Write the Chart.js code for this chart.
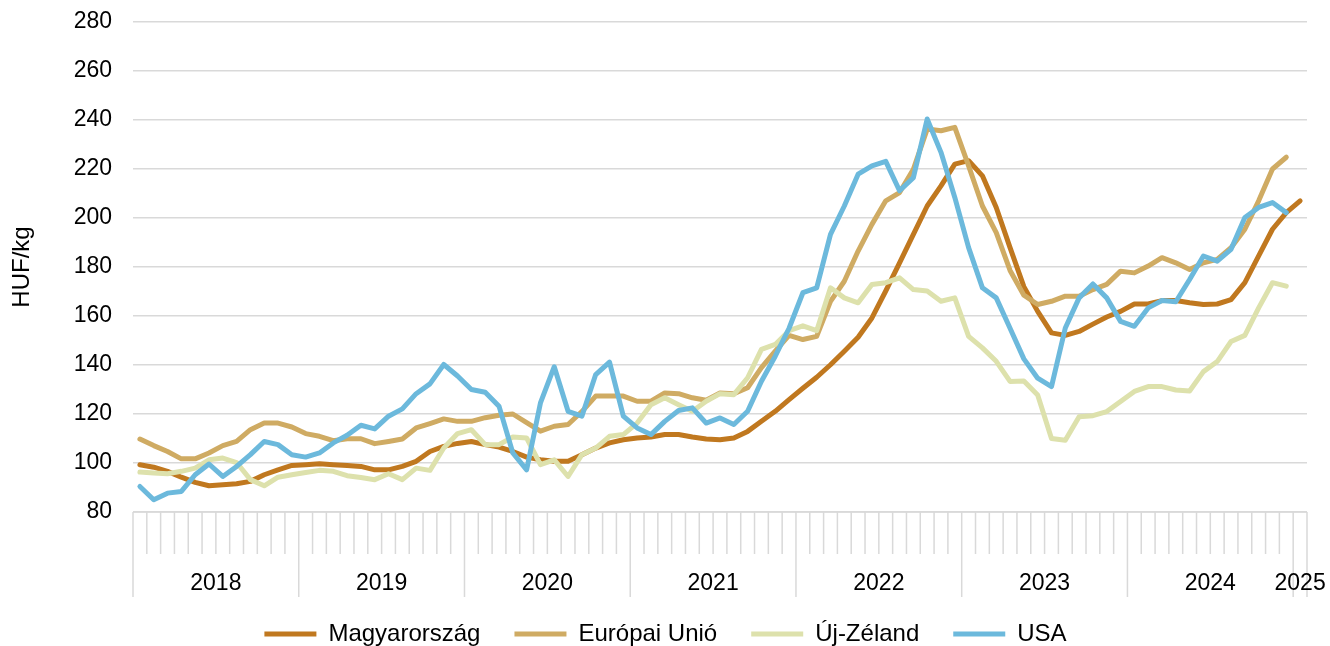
<!DOCTYPE html>
<html>
<head>
<meta charset="utf-8">
<script src="https://cdn.jsdelivr.net/npm/chart.js@4"></script>
<style>
  html, body { margin: 0; padding: 0; background: #fff; }
  #wrap { width: 1330px; height: 646px; }
</style>
</head>
<body>
<div id="wrap"><canvas id="priceChart"></canvas></div>
<script>
// categories: monthly, Jan 2018 .. Jan 2025
const years = ['2018', '2019', '2020', '2021', '2022', '2023', '2024', '2025'];
const months = ['01', '02', '03', '04', '05', '06', '07', '08', '09', '10', '11', '12'];
const yTicks = [80, 100, 120, 140, 160, 180, 200, 220, 240, 260, 280];

const hungary = [
  99.3, 98.3, 96.6, 94.2, 92.1, 90.7, 91.1, 91.5, 92.5, 95.2, 97.2, 99.0,
  99.3, 99.7, 99.3, 99.0, 98.6, 97.2, 97.2, 98.6, 100.7, 104.7, 106.8, 108.0,
  108.8, 107.5, 106.5, 104.7, 102.4, 101.3, 100.7, 100.7, 103.4, 106.1, 108.2, 109.5,
  110.2, 110.6, 111.6, 111.6, 110.6, 109.8, 109.5, 110.2, 112.9, 117.0, 121.1, 125.9,
  130.5, 135.0, 140.1, 145.6, 151.3, 159.2, 170.2, 181.7, 193.3, 204.9, 213.1, 222.0,
  223.4, 217.2, 204.3, 187.9, 172.0, 161.9, 153.1, 152.1, 153.7, 156.7, 159.6, 161.9,
  164.9, 164.9, 166.3, 166.3, 165.4, 164.7, 164.9, 166.7, 173.6, 184.5, 195.4, 202.2,
  207.0
];
const eu = [
  109.8, 107.1, 104.7, 101.7, 101.7, 104.1, 107.1, 108.8, 113.6, 116.3, 116.3, 114.7,
  112.0, 110.9, 109.1, 109.9, 109.9, 107.9, 108.8, 109.8, 114.3, 116.1, 118.0, 117.0,
  117.0, 118.5, 119.5, 120.0, 116.5, 113.0, 115.0, 115.7, 121.0, 127.3, 127.3, 127.3,
  125.2, 125.2, 128.6, 128.3, 126.6, 125.6, 128.6, 128.3, 130.7, 138.9, 145.7, 152.1,
  150.4, 151.7, 166.0, 174.2, 186.5, 197.4, 207.0, 210.4, 219.9, 236.3, 235.6, 237.0,
  221.3, 204.9, 194.0, 178.6, 168.5, 164.7, 166.0, 168.1, 168.1, 170.8, 172.9, 178.3,
  177.6, 180.4, 183.8, 181.7, 179.0, 181.7, 183.1, 187.9, 195.4, 207.0, 220.0, 224.8,
  null
];
const newZealand = [
  96.3, 95.9, 95.6, 96.6, 97.9, 101.3, 102.0, 100.2, 93.2, 90.7, 94.2, 95.2,
  96.1, 97.0, 96.6, 94.8, 94.1, 93.2, 95.6, 93.2, 97.9, 97.0, 106.1, 112.0,
  113.6, 107.5, 107.5, 110.6, 110.2, 99.3, 101.3, 94.5, 103.4, 106.1, 110.9, 111.6,
  116.3, 123.8, 126.6, 123.8, 121.1, 125.2, 128.3, 127.9, 134.8, 146.4, 148.4, 154.0,
  156.0, 154.0, 171.5, 167.4, 165.4, 172.9, 173.6, 175.6, 170.8, 170.2, 166.0, 167.4,
  151.7, 147.0, 141.5, 133.3, 133.5, 127.8, 110.0, 109.3, 118.9, 119.3, 121.0, 125.1,
  129.2, 131.2, 131.2, 129.8, 129.4, 137.3, 141.4, 149.6, 152.1, 163.3, 173.6, 172.2,
  null
];
const usa = [
  90.4, 85.0, 87.7, 88.4, 95.2, 99.6, 94.5, 98.6, 103.4, 108.8, 107.5, 103.4,
  102.4, 104.1, 108.2, 111.3, 115.4, 113.9, 119.1, 122.1, 128.3, 132.3, 140.2, 135.5,
  130.0, 128.9, 123.2, 104.1, 97.2, 124.5, 139.3, 121.1, 119.1, 136.1, 141.2, 119.1,
  114.3, 111.6, 117.0, 121.4, 122.5, 116.3, 118.4, 115.7, 121.1, 133.4, 143.6, 155.0,
  169.5, 171.5, 193.3, 204.9, 217.9, 221.3, 223.1, 211.1, 216.5, 240.4, 226.8, 208.4,
  187.9, 171.5, 167.4, 155.0, 142.5, 134.6, 131.2, 155.1, 167.4, 173.1, 167.4, 157.8,
  155.8, 163.3, 166.3, 165.8, 174.9, 184.5, 182.4, 187.2, 200.2, 204.3, 206.3, 202.2,
  null
];

const labels = [];
years.forEach(y => months.forEach(m => labels.push(y + '-' + m)));
labels.length = hungary.length;

const FONT = 'Arial, "Liberation Sans", sans-serif';
const GRID = '#d9d9d9';

// Excel-like two level category axis: month ticks + year groups
const yearAxis = {
    id: 'yearAxis',
    afterLayout(chart) {
        // legend is centred on the whole canvas in the original
        chart.legend.left += 12;
        chart.legend.right += 12;
    },
    afterDraw(chart) {
        const ctx = chart.ctx;
        const xs = chart.scales.x;
        const top = chart.chartArea.bottom;
        const step = xs.getPixelForValue(1) - xs.getPixelForValue(0);
        const edge = k => xs.getPixelForValue(k) - step / 2;

        ctx.save();
        ctx.strokeStyle = GRID;
        ctx.lineWidth = 1.5;
        ctx.beginPath();
        ctx.moveTo(xs.left, top);
        ctx.lineTo(xs.right, top);
        for (let k = 0; k <= labels.length; k++) {
            const px = edge(k);
            const long = k % 12 === 0 || k === labels.length;
            ctx.moveTo(px, top);
            ctx.lineTo(px, top + (long ? 85 : 42));
        }
        ctx.stroke();

        ctx.fillStyle = '#000';
        ctx.font = '23px ' + FONT;
        ctx.textAlign = 'center';
        ctx.textBaseline = 'middle';
        years.forEach((y, i) => {
            const first = i * 12;
            const last = Math.min(first + 11, labels.length - 1);
            const cx = (xs.getPixelForValue(first) + xs.getPixelForValue(last)) / 2;
            ctx.fillText(y, cx, top + 72);
        });
        ctx.restore();
    }
};

function series(label, data, color, order) {
    return {
        label: label,
        data: data,
        borderColor: color,
        backgroundColor: color,
        borderWidth: 5,
        pointRadius: 0,
        tension: 0,
        borderJoinStyle: 'round',
        borderCapStyle: 'round',
        order: order
    };
}

const ctx = document.getElementById('priceChart').getContext('2d');
new Chart(ctx, {
    type: 'line',
    data: {
        labels: labels,
        datasets: [
            series('Magyarország', hungary, '#c0781f', 4),
            series('Európai Unió', eu, '#cfab63', 3),
            series('Új-Zéland', newZealand, '#dde1ac', 2),
            series('USA', usa, '#6cb9dc', 1)
        ]
    },
    options: {
        responsive: true,
        maintainAspectRatio: false,
        animation: false,
        layout: { padding: { top: 22, right: 23, left: 0, bottom: -10 } },
        plugins: {
            tooltip: { enabled: false },
            legend: {
                position: 'bottom',
                labels: {
                    font: { family: FONT, size: 24 },
                    color: '#000',
                    boxWidth: 52,
                    boxHeight: 5,
                    padding: 34,
                    generateLabels: chart => chart.data.datasets.map((ds, i) => ({
                        text: ds.label,
                        fillStyle: ds.borderColor,
                        strokeStyle: ds.borderColor,
                        lineWidth: 0,
                        fontColor: '#000',
                        datasetIndex: i
                    }))
                }
            }
        },
        scales: {
            x: {
                offset: true,
                grid: { display: false },
                border: { display: false },
                ticks: { display: false },
                afterFit: scale => { scale.height = 76; }
            },
            y: {
                min: 80,
                max: 280,
                afterBuildTicks: scale => { scale.ticks = yTicks.map(v => ({ value: v })); },
                grid: {
                    color: GRID,
                    lineWidth: 1.5,
                    drawTicks: true,
                    tickLength: 21,
                    tickColor: 'rgba(0,0,0,0)'
                },
                border: { display: false },
                ticks: {
                    padding: 0,
                    color: '#000',
                    font: { family: FONT, size: 23 }
                },
                title: {
                    display: true,
                    text: 'HUF/kg',
                    color: '#000',
                    font: { family: FONT, size: 24 },
                    padding: { top: 8, bottom: 0 }
                },
                afterFit: scale => { scale.width = 133; }
            }
        }
    },
    plugins: [yearAxis]
});
</script>
</body>
</html>
